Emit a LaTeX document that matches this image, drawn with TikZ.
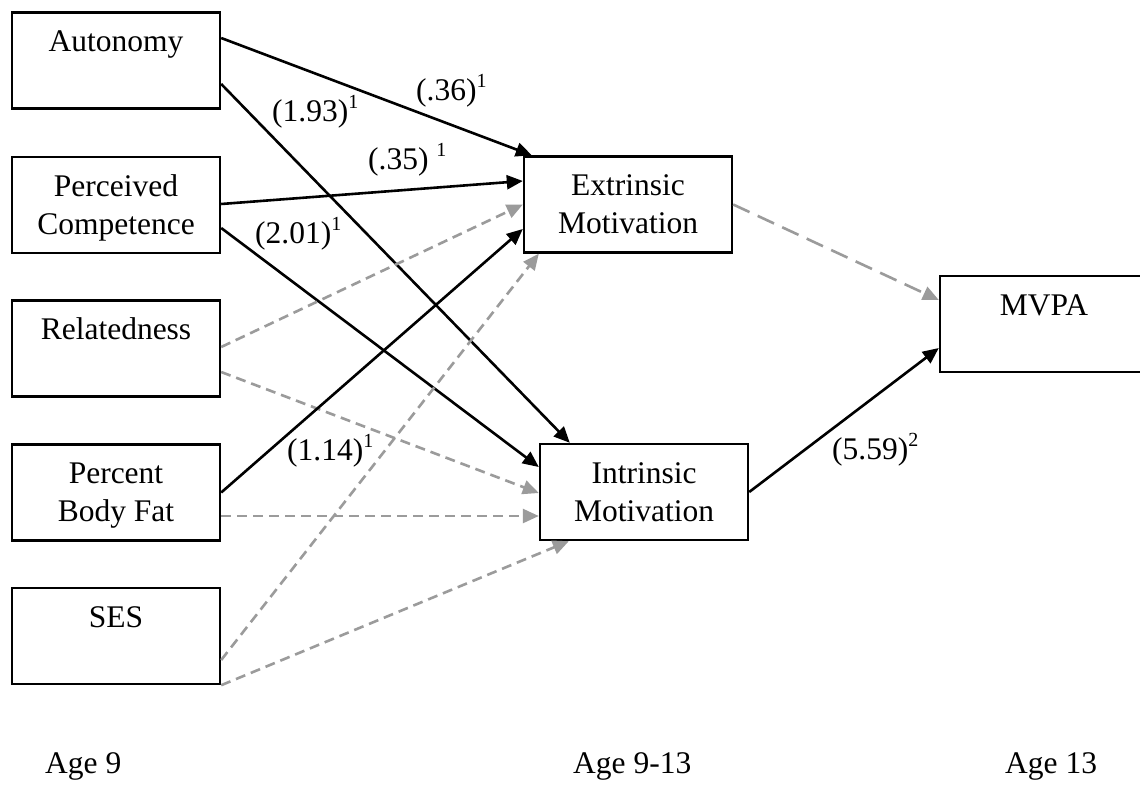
\documentclass[tikz,border=0pt]{standalone}
\usepackage{fontspec}
\setmainfont{Liberation Serif}
\usetikzlibrary{arrows.meta}
\definecolor{dgray}{HTML}{9B9B9B}
\newcommand\bstrut{\rule[-7pt]{0pt}{34pt}}
\newcommand\sups[1]{\raisebox{13pt}{\fontsize{20}{20}\selectfont #1}}
\tikzset{
  varbox/.style={draw, line width=2.4pt, minimum width=208pt, minimum height=96pt,
    inner sep=0pt, align=center, font=\fontsize{31.5}{38}\selectfont},
  sig/.style={line width=2.6pt, -{Triangle[length=16pt,width=14pt]}},
  nsig/.style={line width=2.6pt, dgray, dash pattern=on 10pt off 6pt,
    -{Triangle[length=16pt,width=14pt]}},
  nsiglong/.style={line width=2.6pt, dgray, dash pattern=on 18pt off 9pt,
    -{Triangle[length=16pt,width=14pt]}},
  coef/.style={anchor=base west, inner sep=0pt, font=\fontsize{31.5}{38}\selectfont},
  agelab/.style={anchor=base west, inner sep=0pt, font=\fontsize{31.5}{38}\selectfont}
}
\begin{document}
\begin{tikzpicture}[x=1pt,y=-1pt]
\useasboundingbox (0,0) rectangle (1140,785);
\clip (0,0) rectangle (1140,785);
\fill[white] (0,0) rectangle (1140,785);

% boxes
\node[varbox] (aut)  at (116,60.5)  {\bstrut Autonomy\\\bstrut};
\node[varbox] (pc)   at (116,205)   {\bstrut Perceived\\\bstrut Competence};
\node[varbox] (rel)  at (116,348.5) {\bstrut Relatedness\\\bstrut};
\node[varbox] (pbf)  at (116,492.5) {\bstrut Percent\\\bstrut Body Fat};
\node[varbox] (ses)  at (116,636)   {\bstrut SES\\\bstrut};
\node[varbox] (ext)  at (628,204.5) {\bstrut Extrinsic\\\bstrut Motivation};
\node[varbox] (int)  at (644,492)   {\bstrut Intrinsic\\\bstrut Motivation};
\node[varbox] (mvpa) at (1044,324)  {\bstrut MVPA\\\bstrut};

% paths
\draw[sig]  ([yshift=22.5pt]aut.east)  -- ([xshift=9pt]ext.north west);
\draw[sig]  ([yshift=-23.5pt]aut.east) -- ([xshift=31pt]int.north west);
\draw[sig]  ([yshift=1pt]pc.east)      -- ([yshift=23.5pt]ext.west);
\draw[sig]  ([yshift=-23pt]pc.east)    -- ([yshift=25pt]int.west);
\draw[nsig] ([yshift=1.5pt]rel.east)   -- (ext.west);
\draw[nsig] ([yshift=-23.5pt]rel.east) -- ([yshift=-1pt]int.west);
\draw[sig]  (pbf.east)                 -- ([yshift=-24.5pt]ext.west);
\draw[nsig] ([yshift=-23.5pt]pbf.east) -- ([yshift=-24pt]int.west);
\draw[nsig] ([yshift=-24pt]ses.east)   -- ([xshift=16pt]ext.south west);
\draw[nsig] (ses.south east)           -- ([xshift=30pt]int.south west);
\draw[nsiglong] (ext.east)             -- ([yshift=24pt]mvpa.west);
\draw[sig]  (int.east)                 -- ([yshift=-24pt]mvpa.west);

% coefficients
\node[coef] (c1) at (416,100) {(.36)\sups{1}};
\node[coef] (c2) at (272,121) {(1.93)\sups{1}};
\node[coef] (c3) at (368,169) {(.35) \sups{1}};
\node[coef] (c4) at (255,243) {(2.01)\sups{1}};
\node[coef] (c5) at (287,460) {(1.14)\sups{1}};
\node[coef] (c6) at (832,459) {(5.59)\sups{2}};

% age labels
\node[agelab] (a1) at (45,773)   {Age 9};
\node[agelab] (a2) at (573,773)  {Age 9-13};
\node[agelab] (a3) at (1005,773) {Age 13};
\end{tikzpicture}
\end{document}
